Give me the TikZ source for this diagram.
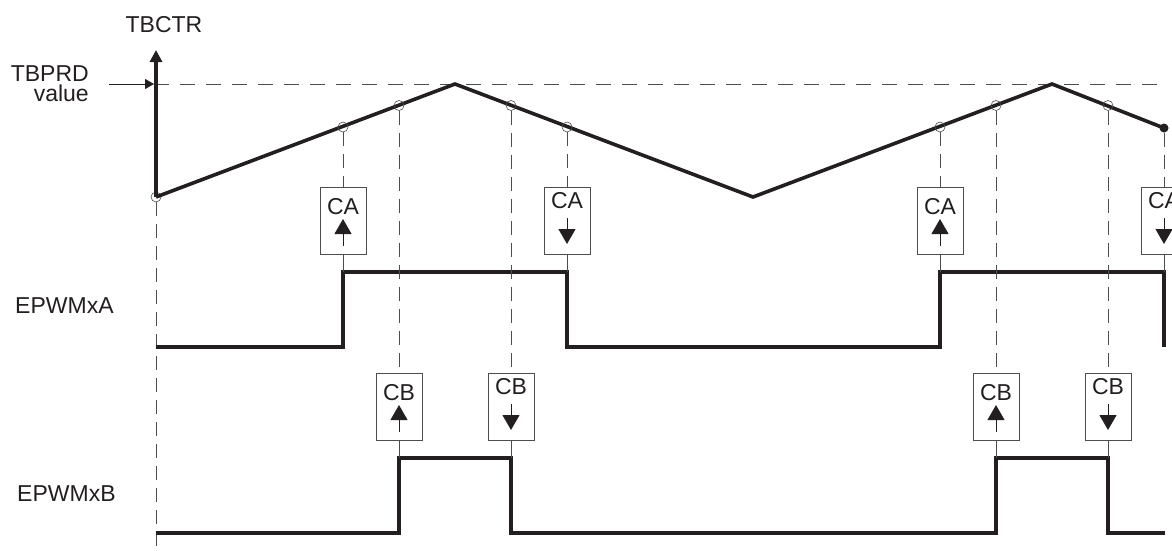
\documentclass[tikz,border=0pt]{standalone}
\usepackage{fontspec}
\setmainfont{Liberation Sans}
\usetikzlibrary{arrows.meta}
\definecolor{ink}{HTML}{231F20}
\definecolor{guidegray}{HTML}{4D4D4D}

\begin{document}
\begin{tikzpicture}[
  x=1pt, y=-1pt,
  sig/.style={line width=3.6pt, draw=ink},
  guide/.style={line width=0.9pt, draw=guidegray, dash pattern=on 14pt off 8pt},
  tick/.style={line width=0.9pt, draw=guidegray},
  cmpbox/.style={draw=guidegray, line width=0.9pt, minimum width=46pt, minimum height=67pt, inner sep=0pt},
  hit/.style={circle, draw=guidegray, line width=0.6pt, minimum size=10pt, inner sep=0pt},
  lbl/.style={font=\fontsize{23}{20.5}\selectfont, text=ink, inner sep=0pt},
  dirarrow/.style={line width=1pt, draw=ink, fill=ink, -{Triangle[width=17pt,length=15pt]}}
]
\useasboundingbox (0,0) rectangle (1172,550);
\clip (0,0) rectangle (1172,550);

% labels
\node[lbl, anchor=base] (ylbl) at (164,32) {TBCTR};
\node[lbl, anchor=north east, align=right] (prdlbl) at (89,65) {TBPRD\\value};
\node[lbl, anchor=base west] (alab) at (15,313) {EPWMxA};
\node[lbl, anchor=base west] (blab) at (17,501) {EPWMxB};

% counter
\coordinate (ytop) at (156,50);
\coordinate (oB) at (156,550);
\coordinate (prdS) at (109,84);
\coordinate (prdA) at (154,84);
\coordinate (prdE) at (1163,84);
\coordinate (p1) at (455,84);
\coordinate (v)  at (753,197);
\coordinate (p2) at (1052,84);
\node[hit] (o) at (156,197) {};
\node[circle, fill=ink, minimum size=9pt, inner sep=0pt] (ca4) at (1164,128) {};

\draw[guide, dash pattern=on 15pt off 11pt] (prdA) -- (prdE);
\draw[tick, draw=ink, -{Triangle[width=10pt,length=9pt]}] (prdS) -- (prdA);
\draw[guide] (o) -- (oB);
\draw[sig, line join=miter] (o.center) -- (p1) -- (v) -- (p2) -- (ca4.center);
\draw[sig, -{Triangle[width=12pt,length=12pt]}] (o.center) -- (ytop);

\node[hit] (ca1) at (343,127) {};
\node[hit] (cb1) at (399,105.5) {};
\node[hit] (cb2) at (511,105.5) {};
\node[hit] (ca2) at (567,127) {};
\node[hit] (ca3) at (940,127) {};
\node[hit] (cb3) at (996,105.5) {};
\node[hit] (cb4) at (1108,105.5) {};

% outputs
\coordinate (a1) at (343,272);
\coordinate (a2) at (567,272);
\coordinate (a3) at (940,272);
\coordinate (a4) at (1164,272);
\coordinate (b1) at (399,458);
\coordinate (b2) at (511,458);
\coordinate (b3) at (996,458);
\coordinate (b4) at (1108,458);
\draw[sig] (156,347) -| (a1) -- (a2) -- (567,347) -| (a3) -- (a4) -- (1164,347);
\draw[sig] (156,533) -| (b1) -- (b2) -- (511,533) -| (b3) -- (b4) -- (1108,533) -- (1165,533);

% compare events
\foreach \nm/\mk/\w/\px/\top/\txt/\tb/\as/\ae in {
  bA1/ca1/a1/343/187/CA/27/59/32,
  bA2/ca2/a2/567/187/CA/21/31/57,
  bA3/ca3/a3/940/187/CA/27/59/32,
  bA4/ca4/a4/1164/187/CA/21/31/57,
  bB1/cb1/b1/399/373/CB/27/59/32,
  bB2/cb2/b2/511/373/CB/21/31/57,
  bB3/cb3/b3/996/373/CB/27/59/32,
  bB4/cb4/b4/1108/373/CB/21/31/57}
{
  \node[cmpbox] (\nm) at (\px,\top+33.5) {};
  \node[lbl, anchor=base] (\nm t) at (\px,\top+\tb) {\txt};
  \draw[dirarrow] (\px,\top+\as) -- (\px,\top+\ae);
  \draw[guide] (\mk) -- (\nm.north);
  \draw[tick] (\nm.south) -- (\w);
}
\end{tikzpicture}
\end{document}
